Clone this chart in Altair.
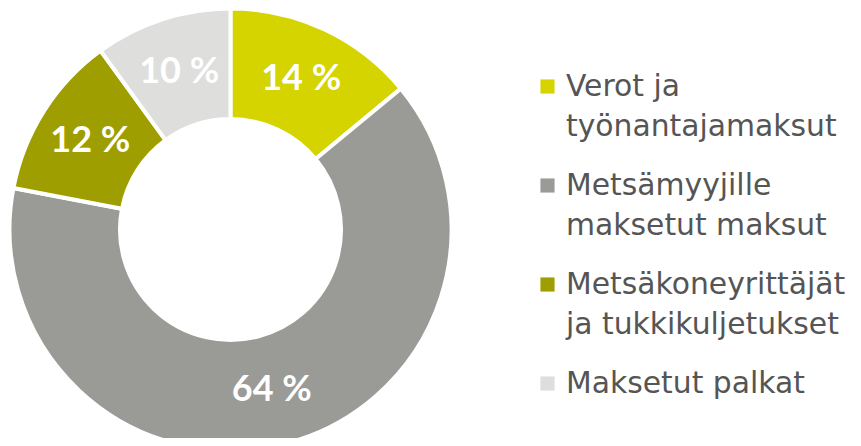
import altair as alt
import pandas as pd

categories = [
    "Verot ja\ntyönantajamaksut",
    "Metsämyyjille\nmaksetut maksut",
    "Metsäkoneyrittäjät\nja tukkikuljetukset",
    "Maksetut palkat",
]
values = [14, 64, 12, 10]
labels = ["14 %", "64 %", "12 %", "10 %"]
colors = ["#d5d300", "#9a9a96", "#9e9e00", "#dededd"]

df = pd.DataFrame({
    "cat": categories,
    "value": values,
    "pct": labels,
    "idx": list(range(len(categories))),
})

base = alt.Chart(df)

color = alt.Color("cat:N", scale=alt.Scale(domain=categories, range=colors), legend=None)

arc = base.mark_arc(innerRadius=110.5, outerRadius=221, stroke="white", strokeWidth=4).encode(
    theta=alt.Theta("value:Q", stack=True),
    order=alt.Order("idx:Q"),
    color=color,
    x=alt.value(222.5),
    y=alt.value(221.5),
)

pct = base.mark_text(radius=166, fontSize=36, fontWeight="bold", color="white", font="Lato").encode(
    theta=alt.Theta("value:Q", stack=True),
    order=alt.Order("idx:Q"),
    text="pct:N",
    x=alt.value(222.5),
    y=alt.value(221.5),
)

yscale = alt.Scale(domain=[0, 3], range=[88, 385])

sq = base.mark_square(size=200, opacity=1, filled=True, yOffset=-9.5).encode(
    x=alt.value(539.5),
    y=alt.Y("idx:Q", scale=yscale, axis=None),
    color=color,
)

txt = base.mark_text(align="left", baseline="alphabetic", fontSize=29.8, lineBreak="\n",
                     lineHeight=39.5, color="#555555", font="DejaVu Sans").encode(
    x=alt.value(558),
    y=alt.Y("idx:Q", scale=yscale, axis=None),
    text="cat:N",
)

chart = alt.layer(arc, pct, sq, txt).properties(
    width=845, height=430, padding=0, autosize="none"
).configure_view(stroke=None)

chart.save("out.html", embed_options={"renderer": "svg", "actions": False})
